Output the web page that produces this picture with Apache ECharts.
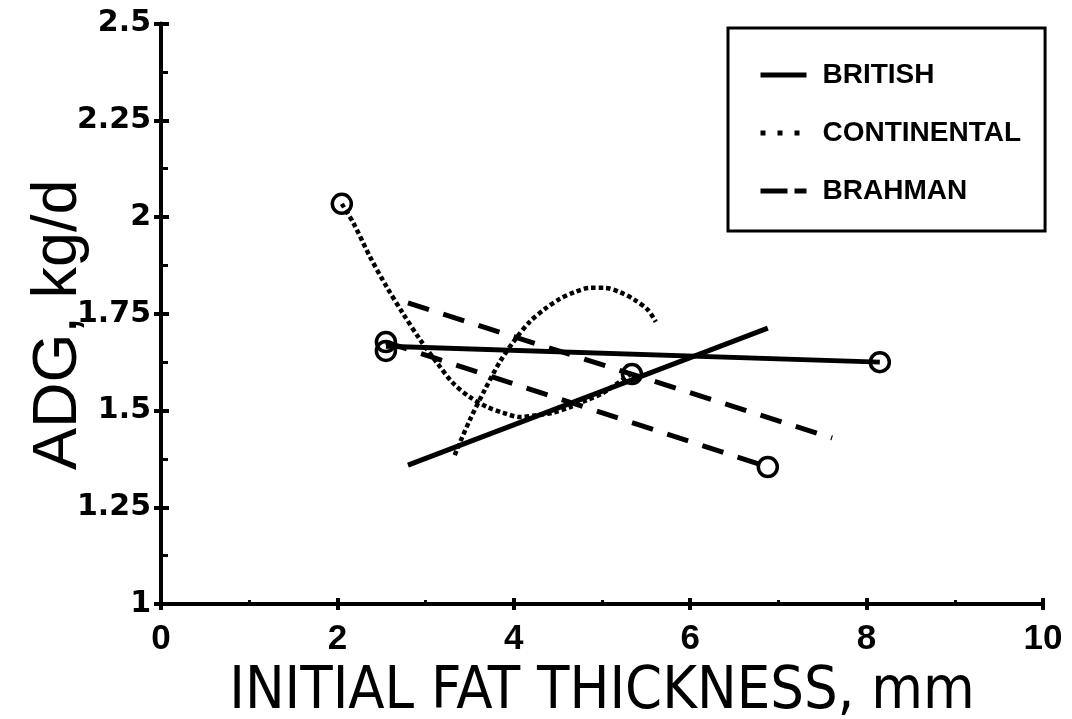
<!DOCTYPE html>
<html>
<head>
<meta charset="utf-8">
<script src="https://cdn.jsdelivr.net/npm/echarts@6.0.0/dist/echarts.min.js"></script>
<style>
  html, body { margin: 0; padding: 0; background: #fff; }
  #container { width: 1072px; height: 719px; }
</style>
</head>
<body>
<div id="container"></div>
<script>
// tick labels
const xTickLabels = ['0', '2', '4', '6', '8', '10']
const yTickLabels = ['1', '1.25', '1.5', '1.75', '2', '2.25', '2.5']

// legend entries
const groups = ['BRITISH', 'CONTINENTAL', 'BRAHMAN']

// [fat thickness mm, ADG kg/d]
const britishA = [[2.55, 1.666], [8.15, 1.625]]
const britishB = [[2.80, 1.359], [6.88, 1.713]]

const continentalA = [
  [2.05, 2.034], [2.18, 1.985], [2.37, 1.897], [2.56, 1.819], [2.74, 1.752],
  [2.94, 1.682], [3.13, 1.623], [3.31, 1.571], [3.50, 1.535], [3.70, 1.509],
  [3.88, 1.494], [4.07, 1.483], [4.26, 1.488], [4.44, 1.494], [4.64, 1.509],
  [4.83, 1.527], [5.01, 1.545], [5.34, 1.597]
]
const continentalB = [
  [3.33, 1.385], [3.50, 1.475], [3.67, 1.553], [3.84, 1.625], [4.01, 1.682],
  [4.18, 1.729], [4.35, 1.762], [4.52, 1.788], [4.69, 1.806], [4.86, 1.817],
  [5.03, 1.817], [5.20, 1.806], [5.37, 1.786], [5.52, 1.760], [5.61, 1.729]
]

const brahmanA = [[2.80, 1.778], [7.61, 1.429]]
const brahmanB = [[2.55, 1.677], [6.88, 1.354]]

// open circles (group means)
const meanPoints = [
  [2.05, 2.034], [2.55, 1.677], [2.55, 1.654],
  [5.34, 1.594], [6.88, 1.354], [8.15, 1.625]
]

const black = '#000'
const solid = { color: black, width: 5, type: 'solid' }
const dotted = { color: black, width: 4.5, type: [4.5, 3] }
const dashed = { color: black, width: 5, type: [22, 15] }

const lineSeries = (name, data, lineStyle, smooth) => ({
  name,
  type: 'line',
  data,
  smooth: smooth || false,
  symbol: 'none',
  itemStyle: { color: black },
  lineStyle,
  z: 2
})

const myChart = echarts.init(document.getElementById('container'), null, { renderer: 'canvas' })

myChart.setOption({
  animation: false,
  backgroundColor: '#fff',
  grid: {
    left: 161,
    right: 29,
    top: 23.5,
    bottom: 115,
    containLabel: false,
    outerBoundsMode: 'none'
  },
  legend: {
    orient: 'vertical',
    left: 728,
    top: 28,
    padding: [33, 24, 26, 30],
    itemGap: 30,
    itemWidth: 46,
    itemHeight: 20,
    borderColor: black,
    borderWidth: 3,
    backgroundColor: '#fff',
    itemStyle: { color: 'rgba(0,0,0,0)', borderWidth: 0, opacity: 0 },
    textStyle: {
      fontFamily: 'Liberation Sans',
      fontWeight: 'bold',
      fontSize: 28,
      color: black,
      padding: [0, 0, 0, 11]
    },
    data: [
      { name: groups[0], lineStyle: { type: 'solid', width: 5 } },
      { name: groups[1], lineStyle: { type: [5, 12], width: 5 } },
      { name: groups[2], lineStyle: { type: [27, 7], width: 5 } }
    ]
  },
  xAxis: [{
    type: 'value',
    min: 0,
    max: 10,
    interval: 2,
    position: 'bottom',
    name: 'INITIAL FAT THICKNESS, mm',
    nameLocation: 'middle',
    nameGap: 59,
    nameMoveOverlap: false,
    nameTextStyle: {
      fontFamily: "'Liberation Sans Narrow', 'DejaVu Sans Condensed', 'Liberation Sans'",
      fontSize: 59,
      color: black
    },
    axisLine: { onZero: false, lineStyle: { color: black, width: 4 } },
    axisTick: { inside: true, length: 6, lineStyle: { color: black, width: 4 } },
    minorTick: { show: true, splitNumber: 2, length: 4, lineStyle: { color: black, width: 3 } },
    axisLabel: {
      margin: 18,
      fontFamily: 'Liberation Sans',
      fontWeight: 'bold',
      fontSize: 35,
      color: black,
      formatter: (v) => xTickLabels[Math.round(v / 2)]
    },
    splitLine: { show: false }
  }, {
    type: 'value',
    min: 0,
    max: 10,
    interval: 2,
    position: 'bottom',
    axisLine: { show: false, onZero: false },
    axisTick: { inside: false, length: 6, lineStyle: { color: black, width: 4 } },
    axisLabel: { show: false },
    splitLine: { show: false }
  }],
  yAxis: [{
    type: 'value',
    min: 1,
    max: 2.5,
    interval: 0.25,
    position: 'left',
    name: 'ADG, kg/d',
    nameLocation: 'middle',
    nameGap: 71,
    nameRotate: 90,
    nameMoveOverlap: false,
    nameTextStyle: {
      fontFamily: 'Liberation Sans',
      fontSize: 63,
      color: black,
      padding: [0, 22, 0, 0]
    },
    axisLine: { onZero: false, lineStyle: { color: black, width: 4 } },
    axisTick: { inside: true, length: 8, lineStyle: { color: black, width: 4 } },
    minorTick: { show: true, splitNumber: 2, length: 7, lineStyle: { color: black, width: 3 } },
    axisLabel: {
      margin: 10,
      fontFamily: 'DejaVu Sans',
      fontWeight: 'bold',
      fontSize: 30,
      color: black,
      formatter: (v) => yTickLabels[Math.round((v - 1) / 0.25)]
    },
    splitLine: { show: false }
  }, {
    type: 'value',
    min: 1,
    max: 2.5,
    interval: 0.25,
    position: 'left',
    axisLine: { show: false, onZero: false },
    axisTick: { inside: false, length: 7, lineStyle: { color: black, width: 4 } },
    axisLabel: { show: false },
    splitLine: { show: false }
  }],
  series: [
    lineSeries(groups[0], britishA, solid),
    lineSeries(groups[0], britishB, solid),
    lineSeries(groups[1], continentalA, dotted, 0.3),
    lineSeries(groups[1], continentalB, dotted, 0.3),
    lineSeries(groups[2], brahmanA, dashed),
    lineSeries(groups[2], brahmanB, dashed),
    {
      name: 'means',
      type: 'scatter',
      data: meanPoints,
      symbol: 'circle',
      symbolSize: 19,
      itemStyle: { color: 'rgba(0,0,0,0)', borderColor: black, borderWidth: 3.5, opacity: 1 },
      z: 3
    }
  ]
})
</script>
</body>
</html>
